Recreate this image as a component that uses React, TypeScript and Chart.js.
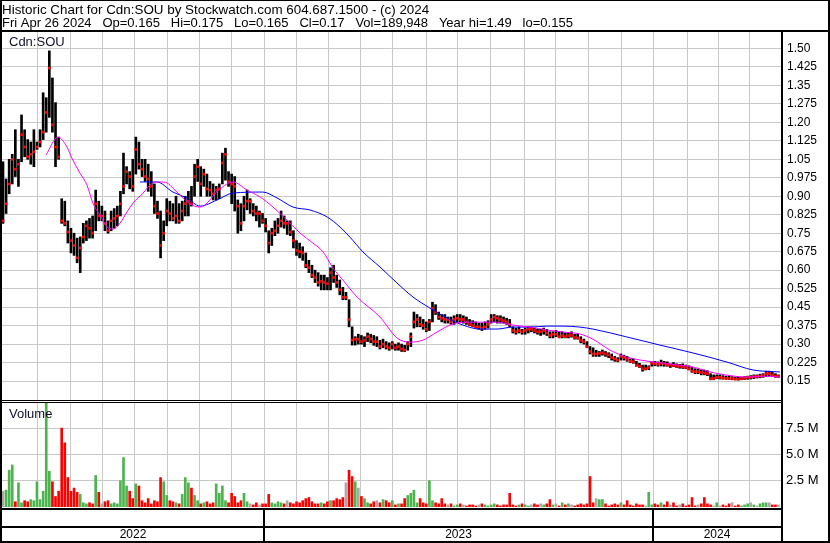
import React, { useEffect, useRef } from 'react';
import { Chart, registerables } from 'chart.js';

Chart.register(...registerables);

// ---- Data ----
const barHigh = [
  1.04, 0.97, 1.05, 1.07, 1.17, 1.05, 1.23, 1.17, 1.13, 1.12, 1.17, 1.12,
  1.17, 1.32, 1.30, 1.49, 1.38, 1.28, 1.14, 0.89, 0.88, 0.80, 0.77, 0.75,
  0.73, 0.735, 0.79, 0.80, 0.81, 0.82, 0.925, 0.88, 0.86, 0.84, 0.80, 0.84,
  0.85, 0.86, 0.92, 1.075, 1.02, 1.00, 1.05, 1.14, 1.12, 1.05, 1.05, 1.03,
  1.00, 0.95, 0.88, 0.84, 0.80, 0.89, 0.88, 0.87, 0.90, 0.87, 0.88, 0.90,
  0.92, 0.94, 1.03, 1.05, 1.02, 1.01, 0.99, 0.96, 0.95, 0.94, 0.95, 1.075,
  1.095, 1.00, 0.99, 0.98, 0.885, 0.87, 0.90, 0.925, 0.89, 0.87, 0.86, 0.84,
  0.83, 0.81, 0.76, 0.77, 0.80, 0.81, 0.84, 0.82, 0.80, 0.80, 0.76, 0.72,
  0.71, 0.695, 0.67, 0.64, 0.62, 0.60, 0.59, 0.58, 0.58, 0.57, 0.61, 0.62,
  0.58, 0.56, 0.53, 0.51, 0.48, 0.37, 0.33, 0.34, 0.335, 0.33, 0.345, 0.34,
  0.335, 0.33, 0.315, 0.32, 0.31, 0.305, 0.31, 0.30, 0.305, 0.30, 0.295, 0.31,
  0.345, 0.43, 0.42, 0.41, 0.40, 0.39, 0.40, 0.47, 0.46, 0.43, 0.42, 0.42,
  0.41, 0.41, 0.415, 0.42, 0.42, 0.415, 0.41, 0.40, 0.395, 0.39, 0.385, 0.385,
  0.39, 0.395, 0.42, 0.42, 0.415, 0.415, 0.41, 0.405, 0.40, 0.37, 0.365, 0.37,
  0.36, 0.365, 0.37, 0.37, 0.365, 0.36, 0.36, 0.365, 0.36, 0.35, 0.35, 0.355,
  0.35, 0.35, 0.345, 0.345, 0.35, 0.34, 0.34, 0.33, 0.32, 0.31, 0.29, 0.285,
  0.275, 0.27, 0.276, 0.27, 0.265, 0.26, 0.25, 0.245, 0.26, 0.255, 0.25, 0.24,
  0.24, 0.23, 0.222, 0.215, 0.215, 0.212, 0.228, 0.23, 0.228, 0.235, 0.23, 0.228,
  0.22, 0.225, 0.22, 0.218, 0.22, 0.215, 0.212, 0.205, 0.20, 0.198, 0.195, 0.195,
  0.192, 0.18, 0.175, 0.175, 0.175, 0.172, 0.17, 0.17, 0.168, 0.166, 0.165, 0.166,
  0.168, 0.17, 0.172, 0.175, 0.175, 0.178, 0.18, 0.19, 0.19, 0.185, 0.18, 0.175,
];

const barLow = [
  0.79, 0.83, 0.91, 0.95, 0.98, 0.94, 1.04, 1.06, 1.05, 1.03, 1.02, 1.09,
  1.10, 1.13, 1.16, 1.22, 1.16, 1.02, 1.05, 0.79, 0.78, 0.71, 0.67, 0.66,
  0.63, 0.59, 0.71, 0.72, 0.73, 0.73, 0.76, 0.80, 0.80, 0.76, 0.75, 0.76,
  0.77, 0.78, 0.82, 0.91, 0.95, 0.93, 0.92, 0.99, 1.01, 0.98, 0.96, 0.92,
  0.90, 0.83, 0.81, 0.65, 0.72, 0.78, 0.80, 0.80, 0.79, 0.79, 0.80, 0.82,
  0.82, 0.86, 0.90, 0.96, 0.90, 0.94, 0.90, 0.90, 0.885, 0.885, 0.89, 0.95,
  0.965, 0.94, 0.87, 0.84, 0.75, 0.76, 0.80, 0.845, 0.83, 0.82, 0.80, 0.775,
  0.79, 0.755, 0.67, 0.70, 0.74, 0.75, 0.775, 0.77, 0.745, 0.74, 0.69, 0.66,
  0.65, 0.64, 0.61, 0.59, 0.57, 0.55, 0.535, 0.52, 0.52, 0.52, 0.52, 0.55,
  0.53, 0.50, 0.48, 0.48, 0.37, 0.296, 0.296, 0.30, 0.30, 0.29, 0.31, 0.305,
  0.295, 0.29, 0.28, 0.285, 0.28, 0.275, 0.28, 0.275, 0.275, 0.27, 0.269, 0.275,
  0.29, 0.365, 0.37, 0.37, 0.36, 0.35, 0.355, 0.39, 0.42, 0.40, 0.39, 0.385,
  0.385, 0.38, 0.38, 0.39, 0.39, 0.385, 0.38, 0.375, 0.37, 0.365, 0.36, 0.355,
  0.36, 0.365, 0.385, 0.39, 0.385, 0.385, 0.385, 0.38, 0.37, 0.345, 0.34, 0.345,
  0.34, 0.34, 0.345, 0.35, 0.345, 0.34, 0.335, 0.34, 0.335, 0.325, 0.325, 0.33,
  0.325, 0.325, 0.325, 0.325, 0.328, 0.32, 0.32, 0.305, 0.30, 0.285, 0.26, 0.25,
  0.25, 0.25, 0.255, 0.25, 0.245, 0.235, 0.23, 0.228, 0.235, 0.235, 0.23, 0.225,
  0.222, 0.21, 0.205, 0.19, 0.195, 0.196, 0.21, 0.212, 0.21, 0.211, 0.21, 0.21,
  0.205, 0.208, 0.205, 0.202, 0.201, 0.20, 0.195, 0.185, 0.18, 0.18, 0.175, 0.175,
  0.172, 0.155, 0.155, 0.16, 0.158, 0.158, 0.157, 0.156, 0.155, 0.155, 0.155, 0.155,
  0.156, 0.157, 0.158, 0.16, 0.162, 0.163, 0.165, 0.168, 0.17, 0.168, 0.165, 0.165,
];

const barClose = [
  0.80, 0.87, 0.95, 1.05, 1.01, 1.03, 1.15, 1.10, 1.06, 1.07, 1.08, 1.10,
  1.12, 1.16, 1.24, 1.42, 1.19, 1.10, 1.06, 0.80, 0.79, 0.755, 0.72, 0.70,
  0.65, 0.69, 0.735, 0.78, 0.77, 0.75, 0.87, 0.82, 0.82, 0.79, 0.76, 0.80,
  0.81, 0.82, 0.87, 0.94, 1.00, 0.98, 0.94, 1.09, 1.03, 1.01, 0.98, 0.97,
  0.94, 0.86, 0.83, 0.70, 0.75, 0.84, 0.83, 0.81, 0.82, 0.80, 0.84, 0.87,
  0.88, 0.87, 0.98, 1.02, 0.95, 0.99, 0.93, 0.925, 0.91, 0.925, 0.93, 1.035,
  1.07, 0.96, 0.95, 0.94, 0.86, 0.79, 0.86, 0.88, 0.88, 0.84, 0.83, 0.83,
  0.80, 0.78, 0.71, 0.75, 0.76, 0.78, 0.80, 0.79, 0.79, 0.755, 0.72, 0.68,
  0.675, 0.67, 0.62, 0.61, 0.58, 0.57, 0.55, 0.555, 0.55, 0.545, 0.59, 0.57,
  0.55, 0.52, 0.49, 0.49, 0.40, 0.316, 0.32, 0.32, 0.31, 0.315, 0.33, 0.32,
  0.31, 0.31, 0.29, 0.30, 0.29, 0.285, 0.30, 0.285, 0.29, 0.28, 0.275, 0.30,
  0.33, 0.39, 0.40, 0.38, 0.375, 0.36, 0.39, 0.445, 0.43, 0.41, 0.405, 0.40,
  0.40, 0.39, 0.40, 0.405, 0.40, 0.40, 0.39, 0.38, 0.375, 0.37, 0.37, 0.365,
  0.37, 0.38, 0.40, 0.41, 0.405, 0.40, 0.395, 0.39, 0.38, 0.355, 0.35, 0.355,
  0.35, 0.355, 0.36, 0.36, 0.355, 0.35, 0.35, 0.355, 0.345, 0.335, 0.34, 0.34,
  0.33, 0.335, 0.33, 0.335, 0.335, 0.327, 0.325, 0.315, 0.31, 0.29, 0.27, 0.26,
  0.26, 0.262, 0.265, 0.26, 0.256, 0.245, 0.24, 0.235, 0.25, 0.245, 0.238, 0.23,
  0.228, 0.215, 0.21, 0.20, 0.20, 0.205, 0.222, 0.22, 0.218, 0.222, 0.22, 0.215,
  0.215, 0.213, 0.21, 0.21, 0.208, 0.205, 0.20, 0.19, 0.188, 0.188, 0.185, 0.182,
  0.18, 0.16, 0.16, 0.165, 0.165, 0.162, 0.161, 0.16, 0.16, 0.158, 0.157, 0.16,
  0.162, 0.165, 0.165, 0.168, 0.168, 0.17, 0.172, 0.18, 0.18, 0.175, 0.17, 0.17,
];

// volume in millions of shares
const volumeM = [
  1.5, 1.6, 3.5, 4.0, 0.5, 2.3, 0.4, 0.6, 0.5, 0.7, 0.6, 2.4,
  0.7, 1.5, 10.0, 3.4, 2.4, 1.0, 1.5, 7.5, 6.1, 2.8, 1.5, 1.8,
  1.4, 1.2, 0.4, 0.3, 0.4, 0.3, 3.0, 1.4, 0.3, 0.5, 0.6, 0.3,
  0.4, 0.3, 2.5, 4.7, 2.0, 1.5, 0.8, 2.2, 2.0, 0.6, 0.4, 0.8,
  0.3, 0.6, 0.5, 2.8, 2.4, 1.1, 0.6, 0.5, 0.4, 0.3, 1.2, 2.8,
  2.3, 1.8, 1.1, 0.6, 0.3, 0.4, 0.5, 0.3, 0.4, 2.2, 1.3, 2.0,
  0.6, 0.4, 1.3, 1.0, 0.4, 0.6, 1.3, 0.5, 0.3, 0.2, 0.4, 0.2,
  0.3, 0.3, 1.2, 0.4, 0.3, 0.5, 0.4, 0.3, 0.6, 0.4, 0.3, 0.5,
  0.4, 0.6, 0.8, 0.9, 0.5, 0.3, 0.3, 0.4, 0.3, 0.5, 0.6, 0.6,
  0.8, 0.7, 0.9, 2.3, 3.5, 2.9, 2.4, 1.8, 1.0, 0.8, 0.4, 0.3,
  0.5, 0.6, 0.4, 0.7, 0.6, 0.4, 0.6, 0.2, 0.3, 0.3, 0.8, 1.1,
  1.3, 1.6, 0.4, 0.8, 0.4, 0.3, 2.5, 0.6, 0.4, 0.3, 0.8, 0.3,
  0.2, 0.3, 0.1, 0.2, 0.3, 0.2, 0.1, 0.2, 0.2, 0.1, 0.2, 0.3,
  0.2, 0.1, 0.2, 0.3, 0.2, 0.1, 0.2, 0.2, 1.3, 0.2, 0.1, 0.2,
  0.3, 0.2, 0.1, 0.2, 0.3, 0.2, 0.3, 0.2, 0.3, 0.7, 0.2, 0.3,
  0.1, 0.4, 0.2, 0.3, 0.2, 0.1, 0.2, 0.3, 0.2, 0.3, 2.9, 0.4,
  0.8, 0.7, 0.7, 0.3, 0.1, 0.2, 0.3, 0.2, 0.4, 0.2, 0.6, 0.2,
  0.1, 0.3, 0.2, 0.2, 0.1, 1.4, 0.2, 0.3, 0.2, 0.4, 0.2, 0.5,
  0.2, 0.4, 0.1, 0.2, 0.3, 0.1, 0.2, 0.9, 0.1, 0.2, 0.3, 0.9,
  0.3, 0.2, 0.1, 0.4, 0.1, 0.2, 0.1, 0.3, 0.4, 0.1, 0.2, 0.1,
  0.2, 0.3, 0.4, 0.2, 0.1, 0.3, 0.4, 0.4, 0.4, 0.2, 0.2, 0.2,
];

// short moving average (magenta): bar position, value
const shortMaAt = [
  13.9, 17.8, 20.7, 22.3, 24.9, 27.2, 29.1, 31.4, 33.7, 35.6, 37.9, 40.1,
  42.1, 45.3, 48.5, 50.8, 53.1, 55.0, 58.3, 61.2, 63.8, 70.2, 74.4, 79.0,
  83.2, 87.4, 91.9, 96.1, 100.3, 103.6, 106.8, 110.0, 114.6, 122.0, 127.5, 131.7,
  135.9, 140.5, 144.7, 148.9, 154.4, 159.9, 165.0, 170.6, 176.1, 181.2, 186.7, 190.9,
  196.4, 201.9, 208.4, 215.9, 223.3, 228.8, 234.3, 240.8, 247.2, 251.5,
];
const shortMaValue = [
  1.067, 1.140, 1.100, 1.055, 0.994, 0.945, 0.872, 0.824, 0.775, 0.767, 0.791, 0.836,
  0.872, 0.913, 0.954, 0.958, 0.954, 0.933, 0.893, 0.864, 0.856, 0.930, 0.958, 0.925,
  0.897, 0.856, 0.803, 0.751, 0.710, 0.674, 0.609, 0.560, 0.491, 0.410, 0.325, 0.308,
  0.316, 0.349, 0.377, 0.389, 0.389, 0.389, 0.377, 0.369, 0.357, 0.349, 0.341, 0.320,
  0.276, 0.247, 0.231, 0.219, 0.207, 0.187, 0.174, 0.166, 0.170, 0.166,
];

// long moving average (blue)
const longMaAt = [
  44.3, 49.8, 55.0, 59.5, 63.8, 69.3, 74.4, 84.1, 88.7, 93.9, 99.4, 104.9,
  109.1, 112.3, 116.5, 122.0, 127.5, 132.7, 138.2, 143.7, 148.9, 154.4, 159.9, 165.0,
  170.6, 176.1, 181.2, 186.7, 190.9, 201.9, 212.6, 223.3, 234.3, 242.7, 251.5,
];
const longMaValue = [
  0.958, 0.958, 0.917, 0.893, 0.860, 0.885, 0.913, 0.917, 0.893, 0.856, 0.844, 0.816,
  0.775, 0.734, 0.674, 0.613, 0.548, 0.491, 0.446, 0.406, 0.377, 0.361, 0.361, 0.369,
  0.369, 0.373, 0.373, 0.369, 0.361, 0.329, 0.296, 0.264, 0.227, 0.195, 0.187,
];

// month starts (bar positions) used for the vertical grid
const monthStarts = [
  11.07, 21.8, 32.1, 42.6, 53.1, 63.5, 74.1, 84.5, 94.95, 105.3, 115.8, 126.05,
  137.05, 147.2, 157.9, 168.7, 178.8, 189.4, 200.1, 210.4, 221.5, 231.7, 241.6,
];
const yearStarts = [84.5, 210.4];
const yearLabels = ['2022', '2023', '2024'];

const priceTicks = [
  1.5, 1.425, 1.35, 1.275, 1.2, 1.125, 1.05, 0.975, 0.9, 0.825,
  0.75, 0.675, 0.6, 0.525, 0.45, 0.375, 0.3, 0.225, 0.15,
];
const priceTickLabels = [
  '1.50', '1.425', '1.35', '1.275', '1.20', '1.125', '1.05', '0.975', '0.90', '0.825',
  '0.75', '0.675', '0.60', '0.525', '0.45', '0.375', '0.30', '0.225', '0.15',
];
const volumeTicks = [7.5, 5, 2.5];
const volumeTickLabels = ['7.5 M', '5.0 M', '2.5 M'];

const headerLine1 = 'Historic Chart for Cdn:SOU by Stockwatch.com 604.687.1500 - (c) 2024';
const headerLine2 =
  'Fri Apr 26 2024   Op=0.165   Hi=0.175   Lo=0.165   Cl=0.17   Vol=189,948   Year hi=1.49   lo=0.155';
const priceTitle = 'Cdn:SOU';
const volumeTitle = 'Volume';

// ---- Styling ----
const W = 830;
const H = 543;
const FONT = '"Liberation Sans", Arial, Helvetica, sans-serif';
const GRID = '#c8c8c8';
const UP = '#4cb44c';
const DOWN = '#ff0000';
const FLAT = '#a8a8a8';

const framePlugin = {
  id: 'swFrame',
  beforeDraw(chart: any) {
    const ctx = chart.ctx;
    ctx.save();
    ctx.fillStyle = '#ffffff';
    ctx.fillRect(0, 0, W, H);
    ctx.restore();
  },
  afterDraw(chart: any) {
    const ctx = chart.ctx;
    const a = chart.chartArea;
    const xs = chart.scales.x;
    const yp = chart.scales.y;
    const yv = chart.scales.yv;
    const left = a.left;
    const right = a.right;
    const pw = right - left;
    ctx.save();
    // gap between the two panels
    ctx.fillStyle = '#ffffff';
    ctx.fillRect(left, yp.bottom, pw, 1);
    ctx.fillStyle = '#000000';
    // outer frame
    ctx.fillRect(0, 0, W, 1);
    ctx.fillRect(0, 0, 2, H);
    ctx.fillRect(W - 2, 0, 2, H);
    ctx.fillRect(0, H - 2, W, 2);
    // header rule
    ctx.fillRect(0, yp.top - 2, W, 2);
    // axis column separator
    ctx.fillRect(right, yp.top - 2, 2, H - yp.top + 2);
    // double rule between panels
    ctx.fillRect(left, yp.bottom - 1, pw, 1);
    ctx.fillRect(left, yv.top + 1, pw, 1);
    // volume bottom + date rows
    const db = a.bottom + 1;
    ctx.fillRect(left, db, pw, 2);
    const rowSep = db + 18;
    ctx.fillRect(left, rowSep, pw, 2);
    const yearPx = yearStarts.map((v) => Math.round(xs.getPixelForValue(v)));
    yearPx.forEach((px) => ctx.fillRect(px - 1, db, 2, H - db));

    // texts
    ctx.fillStyle = '#000000';
    ctx.textBaseline = 'alphabetic';
    ctx.textAlign = 'left';
    ctx.font = `13.4px ${FONT}`;
    ctx.fillText(headerLine1, 2, 14);
    ctx.font = `13px ${FONT}`;
    ctx.fillText(headerLine2, 2, 27);
    ctx.fillStyle = '#10102a';
    ctx.fillText(priceTitle, 9, yp.top + 14);
    ctx.fillText(volumeTitle, 9, yv.top + 17);

    ctx.fillStyle = '#000000';
    ctx.font = `12px ${FONT}`;
    ctx.textAlign = 'center';
    ctx.textBaseline = 'middle';
    const edges = [left, ...yearPx, right];
    yearLabels.forEach((lab, k) => {
      ctx.fillText(lab, (edges[k] + edges[k + 1]) / 2, (rowSep + 2 + H - 2) / 2 + 0.5);
    });
    ctx.restore();
  },
};

export default function App() {
  const ref = useRef<HTMLCanvasElement | null>(null);

  useEffect(() => {
    const canvas = ref.current;
    if (!canvas) return;
    const idx = barClose.map((_, i) => i);
    const half = 0.0041;
    const volColors = barClose.map((c, i) => {
      if (i === 0) return FLAT;
      if (c > barClose[i - 1]) return UP;
      if (c < barClose[i - 1]) return DOWN;
      return FLAT;
    });

    const chart = new Chart(canvas, {
      type: 'bar',
      data: {
        datasets: [
          {
            type: 'line',
            label: 'short MA',
            data: shortMaAt.map((x, k) => ({ x, y: shortMaValue[k] })),
            borderColor: '#ff00ff',
            borderWidth: 1,
            pointRadius: 0,
            cubicInterpolationMode: 'monotone',
            xAxisID: 'x',
            yAxisID: 'y',
            order: 0,
          } as any,
          {
            type: 'line',
            label: 'long MA',
            data: longMaAt.map((x, k) => ({ x, y: longMaValue[k] })),
            borderColor: '#0000ff',
            borderWidth: 1,
            pointRadius: 0,
            cubicInterpolationMode: 'monotone',
            xAxisID: 'x',
            yAxisID: 'y',
            order: 0,
          } as any,
          {
            type: 'bar',
            label: 'close',
            data: idx.map((i) => ({ x: i, y: [barClose[i] - half, barClose[i] + half] })),
            backgroundColor: '#ff0000',
            barThickness: 2,
            grouped: false,
            borderWidth: 0,
            xAxisID: 'x',
            yAxisID: 'y',
            order: 1,
          } as any,
          {
            type: 'bar',
            label: 'range',
            data: idx.map((i) => ({ x: i, y: [barLow[i], barHigh[i]] })),
            backgroundColor: '#000000',
            barThickness: 2,
            grouped: false,
            borderWidth: 0,
            xAxisID: 'x',
            yAxisID: 'y',
            order: 2,
          } as any,
          {
            type: 'bar',
            label: 'volume',
            data: idx.map((i) => ({ x: i, y: volumeM[i] })),
            backgroundColor: volColors,
            barThickness: 2,
            grouped: false,
            borderWidth: 0,
            xAxisID: 'x',
            yAxisID: 'yv',
            order: 3,
          } as any,
        ],
      },
      options: {
        responsive: false,
        maintainAspectRatio: false,
        devicePixelRatio: 1,
        animation: false,
        events: [],
        layout: { autoPadding: false, padding: { left: 2, right: 0, top: 32, bottom: 36 } },
        plugins: { legend: { display: false }, tooltip: { enabled: false }, title: { display: false } },
        scales: {
          x: {
            type: 'linear',
            min: -0.32,
            max: 251.8,
            offset: false,
            afterBuildTicks: (s: any) => {
              s.ticks = monthStarts.map((v) => ({ value: v }));
            },
            afterFit: (s: any) => {
              s.height = 0;
            },
            grid: { color: GRID, lineWidth: 1, drawTicks: false, offset: false },
            border: { display: false },
            ticks: { display: false },
          },
          y: {
            type: 'linear',
            position: 'right',
            stack: 'panels',
            stackWeight: 369,
            min: 0.069,
            max: 1.5666,
            beginAtZero: false,
            afterBuildTicks: (s: any) => {
              s.ticks = priceTicks.map((v) => ({ value: v }));
            },
            afterFit: (s: any) => {
              s.width = 49;
            },
            grid: { color: GRID, lineWidth: 1, drawTicks: false },
            border: { display: false },
            ticks: {
              autoSkip: false,
              padding: 6,
              color: '#000000',
              font: { family: FONT, size: 12 },
              callback: (v: any) => {
                const k = priceTicks.indexOf(v);
                return k >= 0 ? priceTickLabels[k] : '';
              },
            },
          },
          yv: {
            type: 'linear',
            position: 'right',
            stack: 'panels',
            stackWeight: 106,
            min: 0,
            max: 10.08,
            afterBuildTicks: (s: any) => {
              s.ticks = volumeTicks.map((v) => ({ value: v }));
            },
            afterFit: (s: any) => {
              s.width = 49;
            },
            grid: { color: GRID, lineWidth: 1, drawTicks: false },
            border: { display: false },
            ticks: {
              autoSkip: false,
              padding: 5,
              color: '#000000',
              font: { family: FONT, size: 13 },
              callback: (v: any) => {
                const k = volumeTicks.indexOf(v);
                return k >= 0 ? volumeTickLabels[k] : '';
              },
            },
          },
        },
      } as any,
      plugins: [framePlugin],
    });
    return () => chart.destroy();
  }, []);

  return (
    <div style={{ position: 'absolute', left: 0, top: 0, width: W, height: H, background: '#fff' }}>
      <canvas ref={ref} width={W} height={H} style={{ display: 'block', width: W, height: H }} />
    </div>
  );
}
